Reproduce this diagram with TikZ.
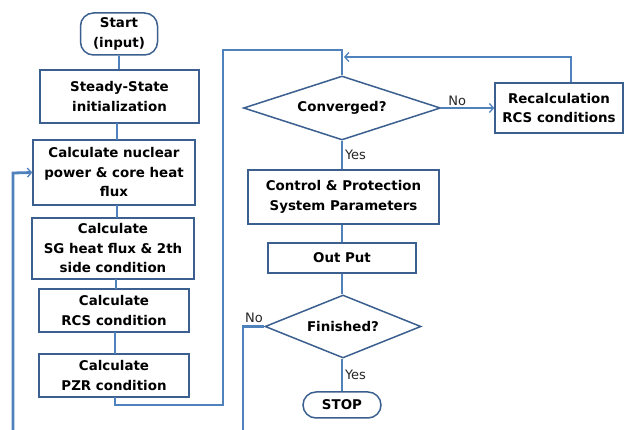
\documentclass[tikz,border=0pt]{standalone}
\usepackage{fontspec}
\setmainfont{DejaVu Sans}
\usetikzlibrary{shapes.geometric,arrows.meta,calc}
\definecolor{boxc}{HTML}{3B5F8E}
\definecolor{linec}{HTML}{4F81BD}
\tikzset{
  box/.style={draw=boxc, line width=1.5pt, fill=white, align=center, inner sep=0pt,
    font=\fontsize{13.4}{19.5}\selectfont\bfseries},
  pill/.style={box, rounded corners=13pt},
  dia/.style={box, diamond, aspect=3},
  conn/.style={draw=linec, line width=2pt},
  loopl/.style={draw=linec, line width=2.8pt},
  arr/.style={-{Straight Barb[length=4pt,width=9pt,line width=1.3pt]}},
  lbl/.style={font=\fontsize{13}{15}\selectfont, text=black!85, inner sep=1pt}
}
\begin{document}
\begin{tikzpicture}[x=1pt,y=-1pt]
\fill[white] (0,0) rectangle (625,430);
\useasboundingbox (0,0) rectangle (625,430);
% nodes
\node[pill, minimum width=77pt, minimum height=42pt] (start) at (119,34) {Start\\(input)};
\node[box, minimum width=159pt, minimum height=53pt] (steady) at (119.5,96.5) {Steady-State\\initialization};
\node[box, minimum width=162pt, minimum height=65pt] (nuc) at (114,172.5) {Calculate nuclear\\power \& core heat\\flux};
\node[box, minimum width=162pt, minimum height=61pt] (sg) at (113,248.5) {Calculate\\SG heat flux \& 2th\\side condition};
\node[box, minimum width=150pt, minimum height=43pt] (rcs) at (114,310.5) {Calculate\\RCS condition};
\node[box, minimum width=150pt, minimum height=43pt] (pzr) at (114,375.5) {Calculate\\PZR condition};
\node[dia, minimum width=197pt, minimum height=64pt] (conv) at (342,108) {Converged?};
\node[box, minimum width=128pt, minimum height=50pt] (recalc) at (559,108) {Recalculation\\RCS conditions};
\node[box, minimum width=191pt, minimum height=54pt] (ctrl) at (343.5,197) {Control \& Protection\\System Parameters};
\node[box, minimum width=148pt, minimum height=30pt] (outp) at (342,258) {Out Put};
\node[dia, minimum width=156pt, minimum height=63pt] (fin) at (343,326.5) {Finished?};
\node[pill, minimum width=78pt, minimum height=26pt] (stop) at (342,405) {STOP};
% coordinates
\coordinate (pzrout) at (115,397);
\coordinate (c1) at (115,405);
\coordinate (c2) at (223,405);
\coordinate (c3) at (223,50);
\coordinate (c4) at (342,50);
\coordinate (r1) at (571,57);
\coordinate (finend) at (243,430);
\coordinate (loopstart) at (13,430);
\coordinate (loopturn) at (13,173);
% connectors
\draw[conn] (start.south) -- (start.south |- steady.north);
\draw[conn] (117,123) -- (117,140);
\draw[conn] (117,205) -- (117,218);
\draw[conn] (116,279) -- (116,289);
\draw[conn] (115,332) -- (115,354);
\draw[loopl] (pzrout) -- (c1) -- (c2) -- (c3) -- (c4) -- (conv.north);
\draw[conn,arr] (recalc.north -| r1) -- (r1) -- ($(c4 |- r1)+(2,0)$);
\draw[conn,arr] (conv.east) -- node[lbl, above, pos=0.3] {No} (recalc.west);
\draw[conn] (conv.south) -- node[lbl, right, pos=0.5, xshift=1pt] {Yes} (conv.south |- ctrl.north);
\draw[conn] (conv.south |- ctrl.south) -- (conv.south |- outp.north);
\draw[conn] (outp.south) -- (outp.south |- fin.north);
\draw[conn] (outp.south |- fin.south) -- node[lbl, right, pos=0.5, xshift=1pt] {Yes} (outp.south |- stop.north);
\draw[loopl] (fin.west) -- (fin.west -| finend) -- (finend);
\node[lbl] (nolab) at (254,318) {No};
\draw[loopl,arr] (loopstart) -- (loopturn) -- (nuc.west);
\end{tikzpicture}
\end{document}
